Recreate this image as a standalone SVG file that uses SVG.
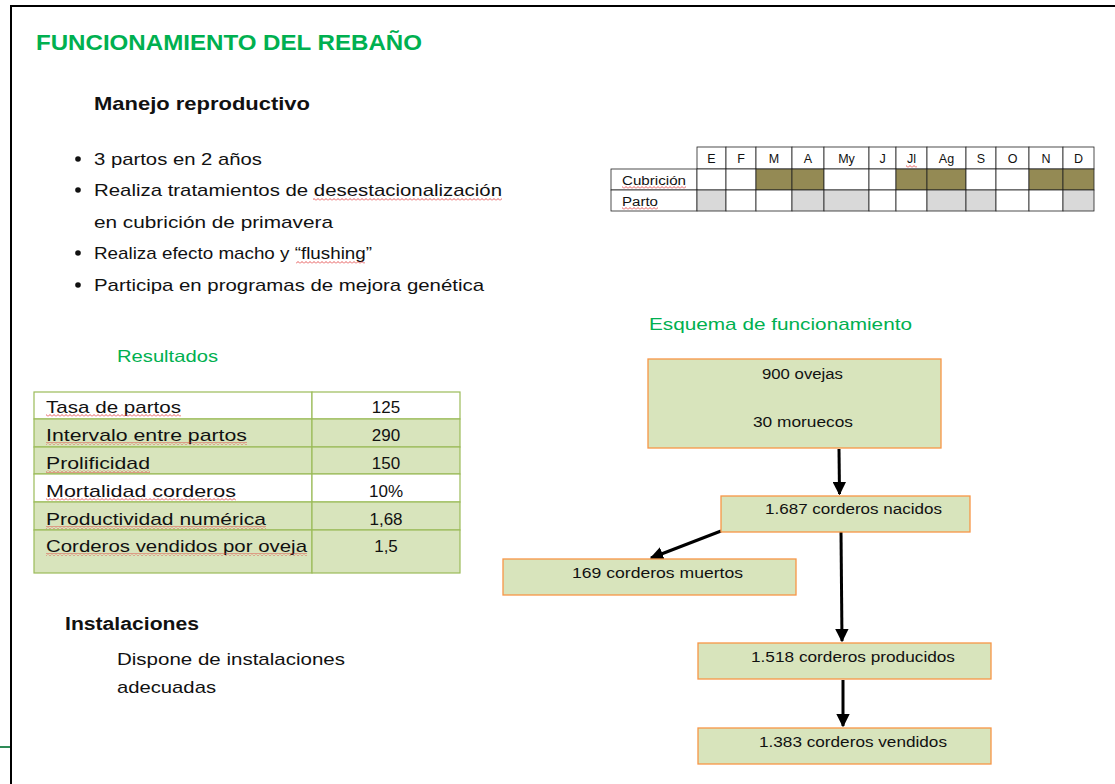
<svg xmlns="http://www.w3.org/2000/svg" width="1115" height="784" viewBox="0 0 1115 784">
<style>
text{font-family:"Liberation Sans",Arial,sans-serif;fill:#111}
.green{fill:#00B050}
.body{font-size:17px}
.cal{font-size:12.5px}
.calv{font-size:12.5px;text-anchor:middle}
.res{font-size:17px}
.resv{font-size:17px;text-anchor:middle}
.box{fill:#D8E4BC;stroke:#F79646;stroke-width:1.3}
.fl{font-size:15.5px;text-anchor:middle}
.cell{fill:#fff;stroke:#222;stroke-width:0.8}
.cub{fill:#948A54;stroke:#222;stroke-width:0.8}
.par{fill:#D9D9D9;stroke:#222;stroke-width:0.8}
.rw{fill:#fff;stroke:#9BBB59;stroke-width:1.2}
.rg{fill:#D8E4BC;stroke:#9BBB59;stroke-width:1.2}
.sq{fill:url(#wave)}
.conn{stroke:#000;stroke-width:3;fill:none;marker-end:url(#ah)}
</style>
<defs>
<marker id="ah" viewBox="0 0 10 10" refX="9" refY="5" markerWidth="4.5" markerHeight="4.5" markerUnits="strokeWidth" orient="auto">
<path d="M0,0 L10,5 L0,10 z" fill="#000"/>
</marker>
<pattern id="wave" width="4" height="3" patternUnits="userSpaceOnUse">
<path d="M0,2.5 L2,0.5 L4,2.5" stroke="#E03030" stroke-width="0.8" fill="none"/>
</pattern>
</defs>
<rect width="1115" height="784" fill="#fff"/>
<g id="frame">
<path d="M11,784 V6 H1115" fill="none" stroke="#000" stroke-width="2"/>
<line x1="0" y1="747" x2="10" y2="747" stroke="#2E8B57" stroke-width="2"/>
</g>
<g id="title">
<text x="36" y="50" class="green" font-size="22" font-weight="bold" textLength="386" lengthAdjust="spacingAndGlyphs">FUNCIONAMIENTO DEL REBAÑO</text>
</g>
<g id="manejo">
<text x="94" y="110" font-size="18.5" font-weight="bold" textLength="216" lengthAdjust="spacingAndGlyphs">Manejo reproductivo</text>
<g fill="#111">
<circle cx="78" cy="159" r="2.8"/><circle cx="78" cy="190" r="2.8"/><circle cx="78" cy="253" r="2.8"/><circle cx="78" cy="285" r="2.8"/>
</g>
<text x="94" y="165" class="body" textLength="168" lengthAdjust="spacingAndGlyphs">3 partos en 2 años</text>
<text x="94" y="196" class="body" textLength="408" lengthAdjust="spacingAndGlyphs">Realiza tratamientos de desestacionalización</text>
<text x="94" y="228" class="body" textLength="239" lengthAdjust="spacingAndGlyphs">en cubrición de primavera</text>
<text x="94" y="259" class="body" textLength="278" lengthAdjust="spacingAndGlyphs">Realiza efecto macho y “flushing”</text>
<text x="94" y="291" class="body" textLength="390" lengthAdjust="spacingAndGlyphs">Participa en programas de mejora genética</text>
<rect class="sq" x="313" y="198" width="189" height="3"/>
<rect class="sq" x="296" y="261" width="69" height="3"/>
</g>
<g id="calendario">
<rect class="cell" x="697" y="147" width="29" height="22"/><rect class="cell" x="726" y="147" width="30" height="22"/><rect class="cell" x="756" y="147" width="36" height="22"/><rect class="cell" x="792" y="147" width="32" height="22"/><rect class="cell" x="824" y="147" width="45" height="22"/><rect class="cell" x="869" y="147" width="27" height="22"/><rect class="cell" x="896" y="147" width="31" height="22"/><rect class="cell" x="927" y="147" width="39" height="22"/><rect class="cell" x="966" y="147" width="30" height="22"/><rect class="cell" x="996" y="147" width="33" height="22"/><rect class="cell" x="1029" y="147" width="34" height="22"/><rect class="cell" x="1063" y="147" width="31" height="22"/>
<rect class="cell" x="611" y="169" width="86" height="21"/>
<rect class="cell" x="697" y="169" width="29" height="21"/><rect class="cell" x="726" y="169" width="30" height="21"/><rect class="cub" x="756" y="169" width="36" height="21"/><rect class="cub" x="792" y="169" width="32" height="21"/><rect class="cell" x="824" y="169" width="45" height="21"/><rect class="cell" x="869" y="169" width="27" height="21"/><rect class="cub" x="896" y="169" width="31" height="21"/><rect class="cub" x="927" y="169" width="39" height="21"/><rect class="cell" x="966" y="169" width="30" height="21"/><rect class="cell" x="996" y="169" width="33" height="21"/><rect class="cub" x="1029" y="169" width="34" height="21"/><rect class="cub" x="1063" y="169" width="31" height="21"/>
<rect class="cell" x="611" y="190" width="86" height="21"/>
<rect class="par" x="697" y="190" width="29" height="21"/><rect class="cell" x="726" y="190" width="30" height="21"/><rect class="cell" x="756" y="190" width="36" height="21"/><rect class="par" x="792" y="190" width="32" height="21"/><rect class="par" x="824" y="190" width="45" height="21"/><rect class="cell" x="869" y="190" width="27" height="21"/><rect class="cell" x="896" y="190" width="31" height="21"/><rect class="par" x="927" y="190" width="39" height="21"/><rect class="par" x="966" y="190" width="30" height="21"/><rect class="cell" x="996" y="190" width="33" height="21"/><rect class="cell" x="1029" y="190" width="34" height="21"/><rect class="par" x="1063" y="190" width="31" height="21"/>
<text class="calv" x="711.5" y="163">E</text><text class="calv" x="741" y="163">F</text><text class="calv" x="774" y="163">M</text><text class="calv" x="808" y="163">A</text><text class="calv" x="846.5" y="163">My</text><text class="calv" x="882.5" y="163">J</text><text class="calv" x="911.5" y="163">Jl</text><text class="calv" x="946.5" y="163">Ag</text><text class="calv" x="981" y="163">S</text><text class="calv" x="1012.5" y="163">O</text><text class="calv" x="1046" y="163">N</text><text class="calv" x="1078.5" y="163">D</text>
<text class="cal" x="622" y="185" textLength="64" lengthAdjust="spacingAndGlyphs">Cubrición</text>
<text class="cal" x="622" y="206" textLength="36" lengthAdjust="spacingAndGlyphs">Parto</text>
<rect class="sq" x="622" y="186" width="64" height="3"/>
<rect class="sq" x="622" y="207" width="36" height="3"/>
<rect class="sq" x="906" y="165" width="11" height="3"/>
</g>
<g id="resultados">
<text x="117" y="362" class="green" font-size="16.5" textLength="101" lengthAdjust="spacingAndGlyphs">Resultados</text>
<rect class="rw" x="34" y="392" width="278" height="27"/><rect class="rw" x="312" y="392" width="148" height="27"/>
<rect class="rg" x="34" y="419" width="278" height="28"/><rect class="rg" x="312" y="419" width="148" height="28"/>
<rect class="rg" x="34" y="447" width="278" height="27"/><rect class="rg" x="312" y="447" width="148" height="27"/>
<rect class="rw" x="34" y="474" width="278" height="28"/><rect class="rw" x="312" y="474" width="148" height="28"/>
<rect class="rg" x="34" y="502" width="278" height="28"/><rect class="rg" x="312" y="502" width="148" height="28"/>
<rect class="rg" x="34" y="530" width="278" height="43"/><rect class="rg" x="312" y="530" width="148" height="43"/>
<text class="res" x="46" y="413" textLength="135" lengthAdjust="spacingAndGlyphs">Tasa de partos</text>
<text class="res" x="46" y="441" textLength="201" lengthAdjust="spacingAndGlyphs">Intervalo entre partos</text>
<text class="res" x="46" y="469" textLength="104" lengthAdjust="spacingAndGlyphs">Prolificidad</text>
<text class="res" x="46" y="497" textLength="190" lengthAdjust="spacingAndGlyphs">Mortalidad corderos</text>
<text class="res" x="46" y="525" textLength="220" lengthAdjust="spacingAndGlyphs">Productividad numérica</text>
<text class="res" x="46" y="552" textLength="261" lengthAdjust="spacingAndGlyphs">Corderos vendidos por oveja</text>
<rect class="sq" x="46" y="414" width="135" height="3"/>
<rect class="sq" x="46" y="442" width="201" height="3"/>
<rect class="sq" x="46" y="470" width="104" height="3"/>
<rect class="sq" x="46" y="498" width="190" height="3"/>
<rect class="sq" x="46" y="526" width="220" height="3"/>
<rect class="sq" x="46" y="553" width="261" height="3"/>
<text class="resv" x="386" y="413">125</text>
<text class="resv" x="386" y="441">290</text>
<text class="resv" x="386" y="469">150</text>
<text class="resv" x="386" y="497">10%</text>
<text class="resv" x="386" y="525">1,68</text>
<text class="resv" x="386" y="552">1,5</text>
</g>
<g id="instalaciones">
<text x="65" y="630" font-size="18" textLength="134" lengthAdjust="spacingAndGlyphs" style="font-weight:600">Instalaciones</text>
<text x="117" y="665" class="body" textLength="228" lengthAdjust="spacingAndGlyphs">Dispone de instalaciones</text>
<text x="117" y="693" class="body" textLength="99" lengthAdjust="spacingAndGlyphs">adecuadas</text>
</g>
<g id="esquema-title">
<text x="649" y="330" class="green" font-size="17" textLength="263" lengthAdjust="spacingAndGlyphs">Esquema de funcionamiento</text>
</g>
<g id="connectors">
<line class="conn" x1="839" y1="449" x2="839.5" y2="494"/>
<line class="conn" x1="721" y1="531" x2="651" y2="558"/>
<line class="conn" x1="841" y1="532" x2="842" y2="641"/>
<line class="conn" x1="843" y1="680" x2="843" y2="726"/>
</g>
<g id="n-ovejas">
<rect class="box" x="648" y="359" width="293" height="89"/>
<text class="fl" x="802.5" y="379" textLength="81" lengthAdjust="spacingAndGlyphs">900 ovejas</text>
<text class="fl" x="803" y="427" textLength="100" lengthAdjust="spacingAndGlyphs">30 moruecos</text>
</g>
<g id="n-nacidos">
<rect class="box" x="721" y="496" width="249" height="36"/>
<text class="fl" x="853.5" y="514" textLength="177" lengthAdjust="spacingAndGlyphs">1.687 corderos nacidos</text>
</g>
<g id="n-muertos">
<rect class="box" x="503" y="559" width="293" height="36"/>
<text class="fl" x="657.5" y="578" textLength="171" lengthAdjust="spacingAndGlyphs">169 corderos muertos</text>
</g>
<g id="n-producidos">
<rect class="box" x="698" y="643" width="293" height="36"/>
<text class="fl" x="853" y="662" textLength="204" lengthAdjust="spacingAndGlyphs">1.518 corderos producidos</text>
</g>
<g id="n-vendidos">
<rect class="box" x="698" y="728" width="293" height="36"/>
<text class="fl" x="853" y="747" textLength="188" lengthAdjust="spacingAndGlyphs">1.383 corderos vendidos</text>
</g>
</svg>
